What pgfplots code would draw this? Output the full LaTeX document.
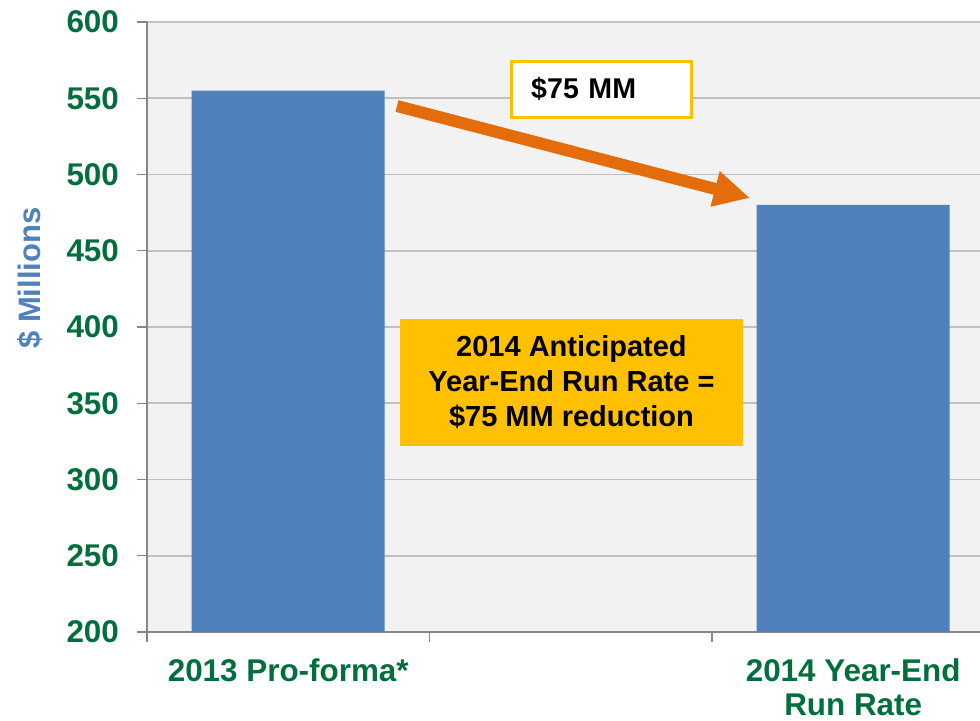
\documentclass[border=0pt]{standalone}
\usepackage{pgfplots}
\pgfplotsset{compat=1.18}
\usepackage{fontspec}
\setmainfont{Liberation Sans}
\usetikzlibrary{arrows.meta}
\definecolor{barblue}{HTML}{4F81BD}
\definecolor{tickgreen}{HTML}{006F3C}
\definecolor{arroworange}{HTML}{E46C0A}
\definecolor{gold}{HTML}{FFC000}
\definecolor{plotbg}{HTML}{F2F2F2}
\definecolor{gridgray}{HTML}{C0C0C0}
\definecolor{axisgray}{HTML}{868686}

\begin{document}
\begin{tikzpicture}
\begin{axis}[
  name=main, at={(0,0)}, anchor=south west,
  scale only axis, width=416.5pt, height=305pt,
  xmin=-0.5, xmax=2.449, ymin=200, ymax=600,
  axis x line*=bottom, axis y line*=left,
  axis line style={axisgray, line width=0.6pt},
  axis background/.style={fill=plotbg},
  ytick={200,250,...,600},
  ymajorgrids, grid style={gridgray, line width=0.8pt},
  tick align=outside, major tick length=5pt,
  tick style={axisgray, line width=0.6pt},
  xtick={-0.5,0.5,1.5}, xticklabels={},
  extra x ticks={0,2},
  extra x tick labels={2013 Pro-forma*, 2014 Year-End\\Run Rate},
  extra x tick style={major tick length=0pt, grid=none,
    tick label style={align=center, yshift=-10pt}},
  xticklabel style={font=\bfseries\fontsize{15.7}{17}\selectfont, text=tickgreen},
  yticklabel style={font=\bfseries\fontsize{15.7}{17.5}\selectfont, text=tickgreen, xshift=-5.5pt},
  /pgf/number format/assume math mode=true,
  ylabel={\$ Millions},
  ylabel style={at={(rel axis cs:0,0.58)}, yshift=58.5pt, anchor=center,
    font=\bfseries\fontsize{15.5}{17}\selectfont, text=barblue},
]
\addplot[ybar, bar width=96.5pt, fill=barblue, draw=none] coordinates {(0,555) (2,480)};

\draw[-{Triangle[length=18pt,width=17pt]}, line width=6pt, arroworange]
  (axis cs:0.385,544.9) -- (axis cs:1.6345,484.6);

\node[draw=gold, line width=1.5pt, fill=white, minimum width=90pt, minimum height=28pt,
  text width=70pt, align=left, inner sep=0pt, font=\bfseries\fontsize{14.3}{17}\selectfont]
  at (axis cs:1.108,556) {\$75 MM};

\node[fill=gold, minimum width=171.5pt, minimum height=63.5pt, align=center, inner sep=0pt,
  font=\bfseries\fontsize{14.5}{17.5}\selectfont]
  at (axis cs:1.0027,363.6) {2014 Anticipated\\Year-End Run Rate =\\\$75 MM reduction};
\end{axis}
\pgfresetboundingbox
\path[use as bounding box] (-73.5pt,-44.5pt) rectangle (416.5pt,316pt);
\end{tikzpicture}
\end{document}
